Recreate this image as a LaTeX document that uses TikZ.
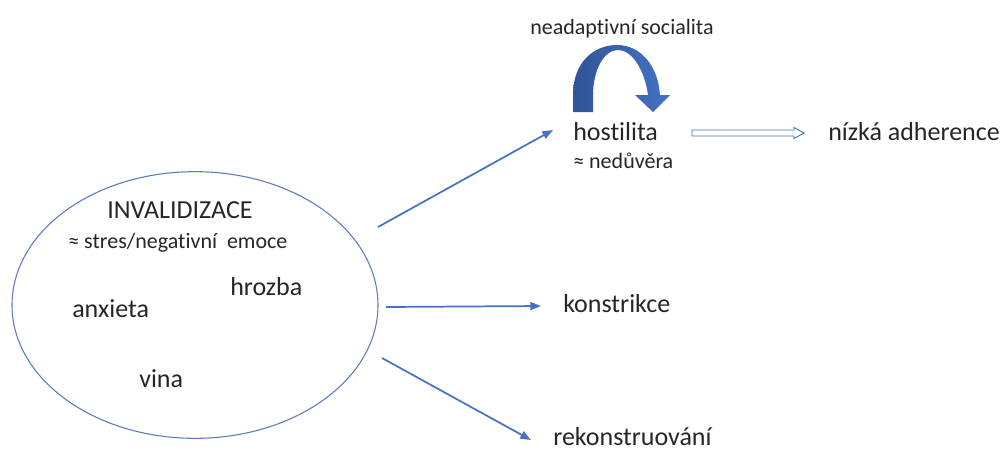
\documentclass[tikz,border=0pt]{standalone}
\usepackage{fontspec}
\setmainfont{Carlito}[RawFeature={-liga;-clig;-calt;-dlig}]
\usetikzlibrary{arrows.meta,shapes.geometric}
\definecolor{linkblue}{HTML}{4472C4}
\definecolor{darkblue}{HTML}{2F5597}
\definecolor{ellblue}{HTML}{5B7BBE}
\tikzset{
  big/.style={font=\fontsize{19.5pt}{22pt}\selectfont, inner sep=0pt, text=black!85},
  small/.style={font=\fontsize{16.5pt}{19pt}\selectfont, inner sep=0pt, text=black!85},
  conn/.style={draw=linkblue, line width=1.3pt, -{Triangle[length=8pt,width=6pt]}},
}
\begin{document}
\begin{tikzpicture}[x=0.75pt,y=-0.75pt]
\useasboundingbox (0,0) rectangle (1008,451);
% ellipse
\node[ellipse, draw=ellblue, line width=0.8pt, minimum width=274.5pt, minimum height=200pt, inner sep=0pt] (ell) at (195,305) {};
% texts in ellipse
\node[big, anchor=base west] (inv) at (107,218) {INVALIDIZACE};
\node[small, anchor=base west] (stres) at (68,248) {≈ stres/negativní\ \ emoce};
\node[big, anchor=base west] (hrozba) at (230,295) {hrozba};
\node[big, anchor=base west] (anx) at (72,317) {anxieta};
\node[big, anchor=base west] (vina) at (139,387) {vina};
% right texts
\node[big, anchor=base west] (host) at (573,140) {hostilita};
\node[small, anchor=base west] (ned) at (573,168) {≈ nedůvěra};
\node[small, anchor=base west] (soc) at (530,34) {neadaptivní socialita};
\node[big, anchor=base west] (adh) at (828,140) {nízká adherence};
\node[big, anchor=base west] (kon) at (563,312) {konstrikce};
\node[big, anchor=base west] (rek) at (553,445) {rekonstruování};
% connector ends
\coordinate (s1) at (378,227);
\coordinate (e1) at (553,130);
\coordinate (s2) at (386,307);
\coordinate (e2) at (541,306);
\coordinate (s3) at (382,358);
\coordinate (e3) at (531,440);
\draw[conn] (s1) -- (e1);
\draw[conn] (s2) -- (e2);
\draw[conn] (s3) -- (e3);
% hollow block arrow
\draw[draw=linkblue, line width=0.7pt, fill=white]
  (692,130) -- (794,130) -- (794,127.5) -- (804,133) -- (794,138.5) -- (794,136) -- (692,136) -- cycle;
% curved block arrow
\shade[left color=darkblue, right color=linkblue]
  (573,112) -- (573,95) .. controls (573,62) and (594,45) .. (617,45)
  .. controls (640,45) and (658,65) .. (660,95)
  -- (670,95) -- (653,112) -- (635,95) -- (648,95)
  .. controls (645,72) and (633,50) .. (618,50)
  .. controls (604,50) and (593,70) .. (593,95)
  -- (593,112) -- cycle;
\end{tikzpicture}
\end{document}
